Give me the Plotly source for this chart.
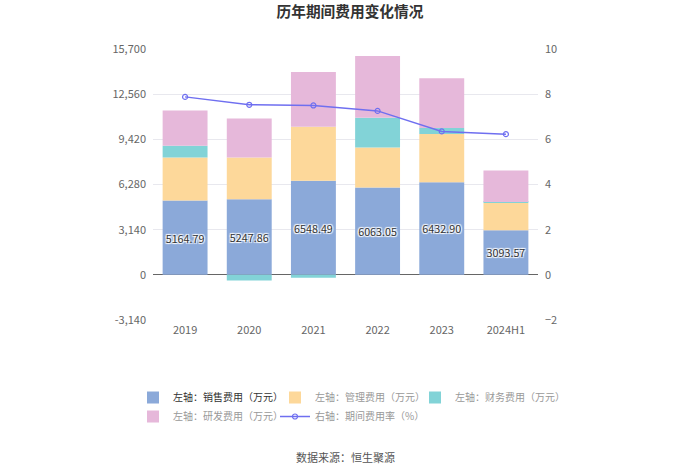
import plotly.graph_objects as go

categories = ["2019", "2020", "2021", "2022", "2023", "2024H1"]
sales = [5164.79, 5247.86, 6548.49, 6063.05, 6432.90, 3093.57]
mgmt = [2996, 2913, 3744, 2793, 3352, 1903]
finance = [812, -395, -208, 2061, 417, 70]
rnd = [2450, 2707, 3817, 4303, 3470, 2193]
rate = [7.88, 7.53, 7.50, 7.26, 6.35, 6.23]

left_ticks = [-3140, 0, 3140, 6280, 9420, 12560, 15700]
right_ticks = [-2, 0, 2, 4, 6, 8, 10]

names = ["左轴：销售费用（万元）", "左轴：管理费用（万元）", "左轴：财务费用（万元）",
         "左轴：研发费用（万元）", "右轴：期间费用率（%）"]

c_blue = "#8BA9D9"
c_orange = "#FDD89A"
c_teal = "#82D3D7"
c_pink = "#E6B8DA"
c_line = "#6F6FF0"

fig = go.Figure()
fig.add_trace(go.Bar(
    x=categories, y=sales, name="<span style='color:#333'>" + names[0] + "</span>",
    marker=dict(color=c_blue, line=dict(width=0)), legend="legend",
    text=[f"{v:.2f}" for v in sales], textposition="inside", insidetextanchor="middle",
    textfont=dict(size=11, color="#333", shadow="1px 1px 1px white, -1px -1px 1px white, 1px -1px 1px white, -1px 1px 1px white"),
    textangle=0,
))
fig.add_trace(go.Bar(x=categories, y=mgmt, name=names[1], legend="legend2",
                     marker=dict(color=c_orange, line=dict(width=0))))
fig.add_trace(go.Bar(x=categories, y=finance, name=names[2], legend="legend3",
                     marker=dict(color=c_teal, line=dict(width=0))))
fig.add_trace(go.Bar(x=categories, y=rnd, name=names[3], legend="legend",
                     marker=dict(color=c_pink, line=dict(width=0))))
fig.add_trace(go.Scatter(
    x=categories, y=rate, name=names[4], yaxis="y2", mode="lines+markers", legend="legend2",
    line=dict(color=c_line, width=1.5),
    marker=dict(symbol="circle-open", size=5, color=c_line, line=dict(width=1.2)),
))

axis_font = dict(family="Noto Sans CJK SC, sans-serif", size=11, color="#666")


def leg(xpx):
    return dict(orientation="v", xref="paper", x=(xpx - 153) / 385, xanchor="left", yref="paper",
                y=-0.2325, yanchor="top", tracegroupgap=0,
                font=dict(size=10, color="#999"), traceorder="normal", itemclick=False,
                bgcolor="rgba(0,0,0,0)")


fig.update_layout(
    width=700, height=474,
    margin=dict(l=153, r=162, t=49, b=154),
    paper_bgcolor="white", plot_bgcolor="white",
    barmode="relative", bargap=0.3,
    font=dict(family="Noto Sans CJK SC, sans-serif", size=11, color="#666"),
    title=dict(text="<b>历年期间费用变化情况</b>", x=0.5, xanchor="center", y=0.975, yanchor="middle",
               font=dict(size=14.7, color="#333")),
    xaxis=dict(type="category", showgrid=False, showline=False, ticks="", tickfont=axis_font,
               ticklabelstandoff=2),
    xaxis2=dict(overlaying="x", anchor="free", position=3140 / 18840, range=[-0.5, 5.5],
                tickmode="array", tickvals=[0, 1, 2, 3, 4, 5], showticklabels=False,
                ticks="outside", ticklen=5, tickcolor="#666", showgrid=False, showline=False,
                zeroline=False),
    yaxis=dict(range=[-3140, 15700], tickmode="array", tickvals=left_ticks,
               ticktext=[f"{v:,}" for v in left_ticks], showgrid=True, gridcolor="#E8E8EE",
               zeroline=True, zerolinecolor="#666", zerolinewidth=1, tickfont=axis_font,
               ticklabelstandoff=6),
    yaxis2=dict(overlaying="y", side="right", range=[-2, 10], tickmode="array", tickvals=right_ticks,
                showgrid=False, zeroline=False, tickfont=axis_font, ticklabelstandoff=6),
    legend=leg(133),
    legend2=leg(275),
    legend3=leg(415),
    showlegend=True,
    annotations=[dict(text="数据来源：恒生聚源", xref="paper", yref="paper", x=0.5, y=-0.5055,
                      xanchor="center", yanchor="middle", showarrow=False,
                      font=dict(size=11, color="#555"))],
)

fig.write_html("out.html", post_script="document.body.style.margin='0px';",
               config={"displayModeBar": False})
